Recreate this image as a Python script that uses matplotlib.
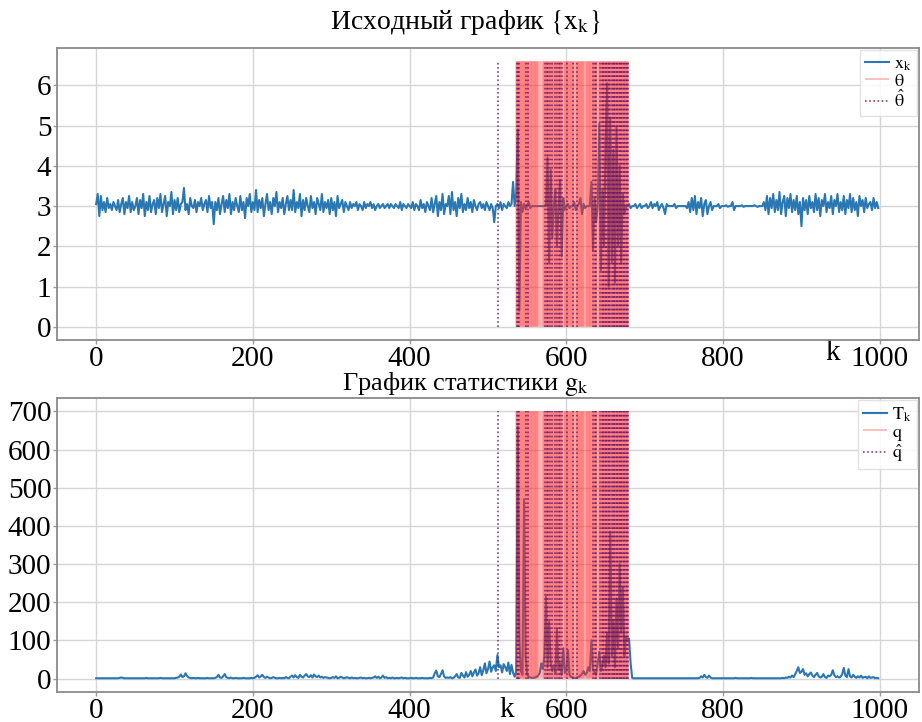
import matplotlib
matplotlib.use('Agg')
import matplotlib.pyplot as plt
import numpy as np

plt.rcParams['font.family'] = ['Liberation Serif', 'DejaVu Serif']
plt.rcParams['mathtext.fontset'] = 'stix'
plt.rcParams['mathtext.default'] = 'rm'

# sampled every 2 steps of k
k_step = 2
x_vals = [
    3.05, 3.3, 2.75, 3.25, 2.9, 3.1, 2.85, 3.2, 2.95, 3.05, 2.9, 3.1, 3.0, 2.9, 3.15, 2.85, 3.05, 3.2, 2.8, 3.1, 2.95, 3.25, 2.85, 3.1, 2.9,
    3.0, 3.2, 2.8, 3.15, 2.95, 3.3, 2.75, 3.1, 2.9, 3.25, 2.85, 3.05, 3.15, 2.8, 3.2, 2.95, 3.3, 2.85, 3.05, 3.25, 2.75, 3.1, 3.0, 3.35, 2.8,
    3.15, 2.9, 3.2, 2.85, 3.05, 3.1, 3.45, 2.9, 3.05, 2.8, 3.2, 3.0, 2.95, 3.15, 2.85, 3.1, 3.0, 3.2, 2.9, 3.05, 3.15, 2.85, 3.25, 2.95, 3.1,
    2.55, 3.1, 2.9, 3.2, 2.8, 3.05, 3.25, 2.85, 3.15, 2.95, 3.3, 2.8, 3.1, 2.9, 3.2, 3.0, 2.85, 3.25, 2.9, 3.1, 2.7, 3.2, 3.0, 3.3, 2.85,
    3.1, 2.9, 3.4, 2.85, 3.15, 2.95, 3.2, 2.75, 3.05, 3.3, 2.9, 3.1, 2.8, 3.2, 3.0, 3.35, 2.85, 3.1, 2.95, 3.2, 2.8, 3.05, 3.25, 2.9, 3.15,
    2.9, 3.4, 2.85, 3.1, 2.95, 3.3, 2.75, 3.15, 2.9, 3.2, 3.0, 2.85, 3.25, 2.95, 3.1, 2.8, 3.2, 3.05, 2.9, 3.3, 2.85, 3.1, 2.95, 3.15, 2.8,
    3.2, 2.9, 3.1, 2.75, 3.25, 2.95, 3.05, 3.15, 2.85, 3.1, 3.0, 2.9, 3.1, 2.95, 3.05, 3.0, 3.1, 2.9, 3.05, 3.0, 2.9, 3.1, 2.95, 3.05, 3.0,
    3.1, 2.95, 3.05, 2.9, 3.0, 3.05, 2.95, 3.0, 3.05, 2.95, 3.0, 3.05, 2.95, 3.05, 3.0, 2.95, 3.05, 3.0, 2.95, 3.1, 2.9, 3.05, 3.0, 2.95, 3.05,
    3.0, 2.95, 3.1, 2.9, 3.05, 3.0, 2.9, 3.15, 2.95, 3.05, 2.85, 3.1, 3.0, 2.9, 3.2, 2.85, 3.05, 3.25, 2.75, 3.1, 2.9, 3.3, 2.8, 3.05, 3.0,
    3.25, 2.8, 3.35, 2.9, 3.1, 2.75, 3.2, 2.95, 3.3, 2.85, 3.05, 2.9, 3.2, 2.95, 3.1, 2.85, 3.15, 3.0, 2.9, 3.05, 3.1, 2.95, 3.05, 2.9, 3.1,
    3.0, 2.9, 3.05, 2.95, 2.6, 3.0, 3.05, 2.95, 3.1, 2.9, 3.05, 3.0, 2.95, 3.1, 3.0, 3.05, 3.6, 3.0, 3.3, 4.9, 0.4, 3.1, 2.85, 3.05, 2.95,
    3.0, 3.1, 2.95, 3.0, 3.0, 3.0, 3.0, 3.0, 3.0, 3.0, 3.0, 3.0, 3.0, 4.2, 1.6, 3.9, 2.2, 3.0, 3.4, 2.0, 3.0, 3.65, 1.75, 3.2, 2.9,
    3.0, 3.05, 2.95, 3.0, 3.0, 3.1, 2.9, 3.0, 3.05, 3.2, 2.8, 3.05, 2.95, 3.0, 3.0, 3.0, 3.6, 1.9, 3.2, 2.6, 3.0, 5.05, 1.4, 3.4, 2.0,
    4.5, 6.05, 1.0, 5.2, 1.6, 4.4, 1.1, 4.95, 2.0, 4.0, 1.6, 3.3, 2.8, 3.0, 3.0, 3.05, 2.95, 3.0, 3.0, 3.05, 2.95, 3.0, 3.05, 2.95, 3.0,
    3.0, 3.05, 2.95, 3.0, 3.1, 2.95, 3.05, 3.0, 3.1, 2.9, 3.0, 3.05, 2.95, 2.8, 3.05, 3.0, 3.0, 3.0, 3.0, 3.05, 2.95, 3.0, 3.0, 3.0, 3.0,
    3.0, 3.0, 2.95, 3.1, 2.85, 3.2, 2.9, 3.25, 2.8, 3.1, 2.95, 3.2, 2.75, 3.05, 3.15, 2.8, 3.0, 3.1, 2.9, 3.0, 3.0, 3.0, 3.05, 2.95, 3.0,
    3.0, 3.0, 3.02, 2.98, 3.0, 3.0, 3.1, 2.9, 3.0, 3.0, 3.0, 3.0, 3.02, 2.98, 3.0, 3.0, 3.0, 3.0, 3.0, 3.0, 3.02, 3.0, 2.98, 3.0, 3.0,
    3.0, 3.1, 2.9, 3.25, 2.8, 3.2, 2.95, 3.3, 2.85, 3.15, 2.9, 3.35, 2.8, 3.1, 3.25, 2.75, 3.2, 2.95, 3.3, 2.85, 3.15, 2.9, 3.25, 2.8, 3.1,
    2.5, 3.2, 2.9, 3.15, 2.8, 3.25, 2.95, 3.1, 2.85, 3.3, 2.9, 3.2, 2.75, 3.15, 3.0, 3.3, 2.85, 3.1, 2.95, 3.25, 2.8, 3.15, 3.0, 3.3, 2.85,
    3.1, 2.9, 3.25, 2.8, 3.15, 2.95, 3.3, 2.85, 3.2, 2.9, 3.1, 2.75, 3.25, 3.0, 3.15, 2.85, 3.2, 2.95, 3.05, 3.1, 2.9, 3.2, 2.95, 3.1, 2.95,
]

t_vals = [
    1, 1, 1, 1, 1, 1, 1, 1, 1, 1, 1, 1, 1, 1, 1, 2, 3, 2, 1, 1, 1, 1, 1, 1, 1,
    1, 1, 1, 1, 1, 1, 1, 2, 1, 1, 1, 1, 1, 1, 1, 1, 2, 1, 1, 1, 1, 1, 1, 1, 1,
    1, 2, 3, 5, 11, 4, 6, 14, 7, 3, 2, 1, 2, 1, 1, 2, 1, 1, 1, 1, 1, 2, 1, 1, 1,
    1, 2, 4, 10, 3, 2, 6, 12, 4, 2, 1, 3, 1, 1, 2, 1, 1, 1, 1, 2, 1, 1, 1, 1, 2,
    1, 2, 5, 9, 3, 6, 10, 4, 2, 5, 3, 1, 2, 4, 2, 1, 1, 2, 1, 2, 1, 4, 2, 1, 5,
    8, 3, 9, 4, 2, 10, 5, 3, 8, 12, 6, 4, 9, 3, 11, 6, 4, 8, 3, 5, 2, 4, 3, 2, 1,
    2, 4, 2, 6, 1, 2, 5, 3, 1, 2, 4, 2, 1, 3, 1, 2, 1, 1, 2, 3, 1, 2, 1, 1, 2,
    1, 2, 3, 6, 2, 5, 1, 3, 8, 2, 4, 1, 2, 1, 3, 1, 1, 2, 1, 2, 3, 1, 2, 1, 1,
    1, 2, 1, 1, 2, 1, 1, 1, 2, 1, 1, 1, 1, 2, 1, 3, 14, 21, 6, 4, 12, 22, 6, 2, 3,
    2, 4, 1, 2, 6, 12, 3, 2, 15, 8, 3, 17, 5, 10, 20, 6, 16, 24, 8, 14, 30, 9, 22, 40, 14,
    25, 45, 18, 30, 35, 20, 62, 30, 35, 16, 38, 30, 20, 42, 12, 36, 15, 5, 20, 660, 100, 20, 10, 470, 60,
    10, 5, 3, 2, 2, 3, 5, 8, 15, 40, 25, 60, 215, 30, 150, 40, 20, 35, 15, 130, 25, 40, 10, 80, 15,
    20, 75, 10, 5, 3, 2, 2, 3, 5, 8, 12, 20, 10, 15, 30, 20, 100, 25, 15, 10, 40, 70, 20, 35, 60,
    30, 120, 40, 385, 60, 150, 30, 210, 80, 300, 120, 240, 60, 110, 100, 105, 40, 2, 1, 1, 1, 1, 1, 1, 1,
    1, 1, 1, 1, 1, 1, 1, 1, 1, 1, 1, 1, 1, 1, 1, 1, 1, 1, 1, 1, 1, 1, 1, 1, 1,
    1, 1, 1, 1, 1, 1, 1, 1, 1, 1, 2, 6, 3, 10, 4, 2, 8, 3, 1, 1, 1, 1, 1, 1, 1,
    1, 1, 1, 1, 1, 1, 1, 1, 2, 1, 1, 1, 1, 1, 1, 1, 1, 1, 2, 1, 1, 1, 1, 1, 1,
    1, 1, 1, 1, 1, 1, 1, 1, 1, 1, 1, 1, 1, 2, 1, 3, 2, 5, 3, 8, 4, 12, 20, 30, 15,
    18, 25, 10, 14, 6, 12, 16, 8, 4, 10, 15, 6, 3, 5, 12, 4, 2, 8, 6, 10, 22, 9, 4, 6, 3,
    5, 12, 28, 8, 4, 25, 6, 3, 10, 5, 2, 6, 3, 8, 2, 4, 5, 1, 6, 2, 3, 4, 1, 2, 1,
]

theta = [
    536, 537, 538, 539, 540, 541, 542, 543, 544, 545, 546, 547, 548, 549, 550, 551, 552, 553, 554, 555,
    556, 557, 558, 559, 560, 561, 562, 563, 564, 566, 568, 570, 571, 572, 573, 574, 575, 576, 577, 578,
    579, 580, 581, 582, 583, 584, 585, 586, 587, 588, 589, 590, 591, 592, 593, 594, 595, 597, 598, 599,
    600, 601, 602, 603, 604, 605, 606, 607, 608, 609, 610, 612, 613, 614, 615, 616, 617, 618, 619, 620,
    621, 622, 623, 625, 626, 627, 628, 629, 630, 631, 632, 633, 634, 635, 636, 637, 638, 639, 641, 642,
    643, 644, 645, 646, 647, 648, 649, 650, 651, 652, 653, 654, 655, 656, 657, 658, 659, 660, 661, 662,
    663, 664, 665, 666, 667, 668, 669, 670, 671, 672, 673, 674, 675, 676, 677, 678, 679,
]

theta_hat = [
    513, 537, 538, 540, 549, 551, 573, 575, 577, 579, 582, 585, 588, 590, 592, 595, 601, 609, 613, 634,
    636, 638, 643, 645, 647, 648, 650, 651, 653, 655, 656, 658, 659, 661, 662, 664, 665, 667, 668, 670,
    671, 673, 674, 676, 677, 679,
]

x_top = 6.6
t_top = 700
x_yticks = [0, 1, 2, 3, 4, 5, 6]
t_yticks = [0, 100, 200, 300, 400, 500, 600, 700]
xticks = [0, 200, 400, 600, 800, 1000]

k = np.arange(len(x_vals)) * k_step

W, H = 922, 722
fig = plt.figure(figsize=(W / 100, H / 100), dpi=100)
ax1 = fig.add_axes([57 / W, 1 - 340 / H, 862 / W, 292 / H])
ax2 = fig.add_axes([57 / W, 1 - 692 / H, 862 / W, 294 / H])

blue = '#2a78b3'
red_c = '#ff2a2a'
dot_c = '#6e1466'

def style(ax):
    ax.set_facecolor('white')
    ax.grid(True, color='#d6d6d6', lw=1.0)
    ax.set_axisbelow(True)
    for s in ax.spines.values():
        s.set_color('#8a8a8a')
        s.set_linewidth(1.3)
    ax.tick_params(direction='out', length=3, width=1, color='#9a9a9a',
                   pad=1, labelsize=21)
    ax.set_xticks(xticks)
    ax.set_xlim(-50, 1050)

for ax, vals, top, lab, lab_t, lab_h, yt in [
        (ax1, x_vals, x_top, r'$x_k$', r'$\theta$', r'$\hat{\theta}$', x_yticks),
        (ax2, t_vals, t_top, r'$T_k$', r'$q$', r'$\hat{q}$', t_yticks)]:
    style(ax)
    ax.plot(k, vals, color=blue, lw=1.5, label=lab, zorder=2)
    ax.vlines(theta, 0, top, colors=red_c, alpha=0.3, lw=1.4, label=lab_t,
              zorder=3, snap=False)
    ax.vlines(theta_hat, 0, top, colors=dot_c, alpha=0.8, lw=1.2,
              linestyles=(0, (1, 1.5)), label=lab_h, zorder=4)
    ax.set_yticks(yt)
    leg = ax.legend(loc='upper right', fontsize=13, handlelength=1.3,
                    labelspacing=0.0, borderpad=0.3, handletextpad=0.3,
                    borderaxespad=0.1, framealpha=0.85, edgecolor='#dddddd',
                    fancybox=False)
    for h in leg.legend_handles[1:2]:
        h.set_alpha(0.3)

ax1.set_ylim(-0.33, 6.93)
ax2.set_ylim(-35, 735)

ax1.set_title(r'Исходный график $\left\{x_k\right\}$', fontsize=20, x=0.474, pad=14)
ax2.set_title(r'График статистики $g_k$', fontsize=19, x=0.474, pad=1)

ax1.set_xlabel('k', fontsize=21)
ax1.xaxis.set_label_coords((833 - 57) / 862, 0.0)
ax2.set_xlabel('k', fontsize=21)
ax2.xaxis.set_label_coords((507 - 57) / 862, -0.016)

fig.savefig('out.png', dpi=100)
